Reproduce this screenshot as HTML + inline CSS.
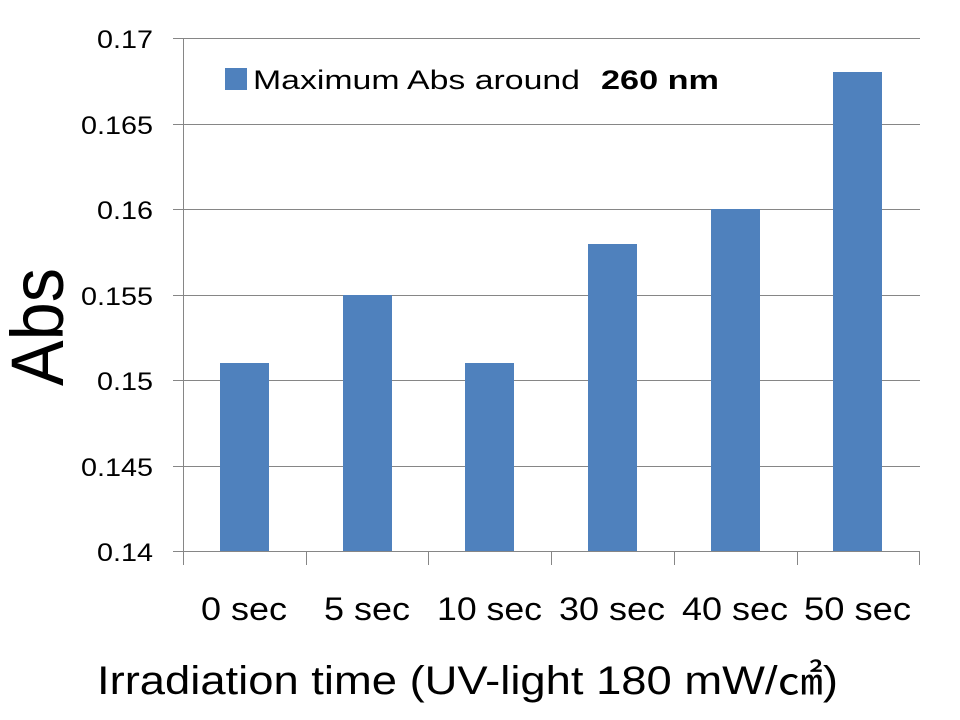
<!DOCTYPE html>
<html><head><meta charset="utf-8"><style>body{margin:0;background:#fff}svg{display:block}</style></head>
<body>
<svg width="960" height="720" xmlns="http://www.w3.org/2000/svg" font-family="Liberation Sans, Noto Sans CJK JP, sans-serif">
<rect width="960" height="720" fill="#fff"/>
<g stroke="#868686" stroke-width="1">
<line x1="183" y1="38.5" x2="920" y2="38.5"/>
<line x1="183" y1="124.5" x2="920" y2="124.5"/>
<line x1="183" y1="209.5" x2="920" y2="209.5"/>
<line x1="183" y1="295.5" x2="920" y2="295.5"/>
<line x1="183" y1="380.5" x2="920" y2="380.5"/>
<line x1="183" y1="466.5" x2="920" y2="466.5"/>
<line x1="183.5" y1="38" x2="183.5" y2="565"/>
<line x1="173" y1="38.5" x2="183" y2="38.5"/>
<line x1="173" y1="124.5" x2="183" y2="124.5"/>
<line x1="173" y1="209.5" x2="183" y2="209.5"/>
<line x1="173" y1="295.5" x2="183" y2="295.5"/>
<line x1="173" y1="380.5" x2="183" y2="380.5"/>
<line x1="173" y1="466.5" x2="183" y2="466.5"/>
<line x1="173" y1="551.5" x2="920" y2="551.5"/>
<line x1="306.5" y1="551" x2="306.5" y2="565"/>
<line x1="428.5" y1="551" x2="428.5" y2="565"/>
<line x1="551.5" y1="551" x2="551.5" y2="565"/>
<line x1="674.5" y1="551" x2="674.5" y2="565"/>
<line x1="797.5" y1="551" x2="797.5" y2="565"/>
<line x1="919.5" y1="551" x2="919.5" y2="565"/>
</g>
<g fill="#4f81bd">
<rect x="220" y="363" width="49" height="188"/>
<rect x="343" y="295" width="49" height="256"/>
<rect x="465" y="363" width="49" height="188"/>
<rect x="588" y="244" width="49" height="307"/>
<rect x="711" y="209" width="49" height="342"/>
<rect x="833" y="72" width="49" height="479"/>
<rect x="225" y="68" width="22" height="22"/>
</g>
<g font-size="25" text-anchor="end" fill="#000" lengthAdjust="spacingAndGlyphs">
<text x="153" y="48" textLength="56" lengthAdjust="spacingAndGlyphs">0.17</text>
<text x="153" y="134" textLength="72" lengthAdjust="spacingAndGlyphs">0.165</text>
<text x="153" y="219" textLength="56" lengthAdjust="spacingAndGlyphs">0.16</text>
<text x="153" y="305" textLength="72" lengthAdjust="spacingAndGlyphs">0.155</text>
<text x="153" y="390" textLength="56" lengthAdjust="spacingAndGlyphs">0.15</text>
<text x="153" y="476" textLength="72" lengthAdjust="spacingAndGlyphs">0.145</text>
<text x="153" y="561" textLength="56" lengthAdjust="spacingAndGlyphs">0.14</text>
</g>
<text x="253" y="89" font-size="27" textLength="327" lengthAdjust="spacingAndGlyphs">Maximum Abs around</text>
<text x="601" y="89" font-size="27" font-weight="bold" textLength="118" lengthAdjust="spacingAndGlyphs">260 nm</text>
<g font-size="32">
<text x="201" y="620" textLength="86" lengthAdjust="spacingAndGlyphs">0 sec</text>
<text x="324" y="620" textLength="86" lengthAdjust="spacingAndGlyphs">5 sec</text>
<text x="437" y="620" textLength="105" lengthAdjust="spacingAndGlyphs">10 sec</text>
<text x="559" y="620" textLength="106" lengthAdjust="spacingAndGlyphs">30 sec</text>
<text x="682" y="620" textLength="106" lengthAdjust="spacingAndGlyphs">40 sec</text>
<text x="804" y="620" textLength="107" lengthAdjust="spacingAndGlyphs">50 sec</text>
</g>
<text x="97" y="694" font-size="40" textLength="741" lengthAdjust="spacingAndGlyphs">Irradiation time (UV-light 180 mW/㎠)</text>
<text transform="translate(63,386) rotate(-90)" font-size="74" textLength="118" lengthAdjust="spacingAndGlyphs">Abs</text>
</svg>
</body></html>
